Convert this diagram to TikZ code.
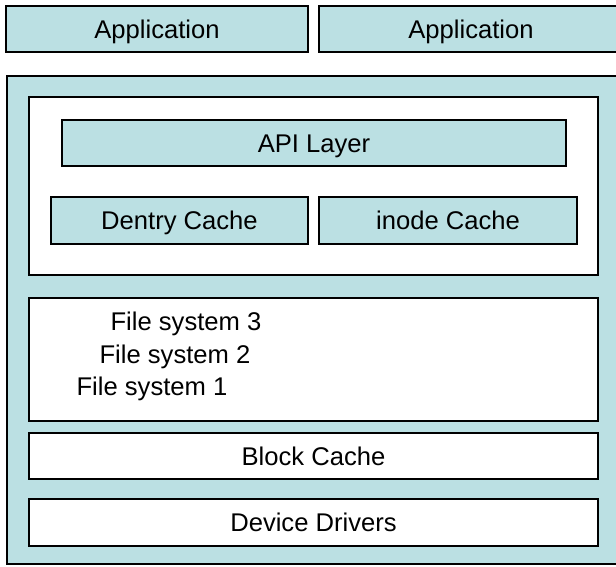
\documentclass[tikz,border=0pt]{standalone}
\usepackage{fontspec}
\setmainfont{Liberation Sans}
\definecolor{boxblue}{HTML}{BBE0E3}
\begin{document}
\begin{tikzpicture}[x=1pt,y=-1pt,
  every node/.style={font=\fontsize{25.6}{30}\selectfont, inner sep=0pt, outer sep=0pt, text height=18.3pt, text depth=0pt},
  bluebox/.style={draw=black, line width=2pt, fill=boxblue, rectangle},
  whitebox/.style={draw=black, line width=2pt, fill=white, rectangle},
  lbl/.style={anchor=center}]
\useasboundingbox (0,0) rectangle (616,566);
\clip (0,0) rectangle (616,566);
\node[bluebox, minimum width=302pt, minimum height=46pt] (app1) at (157,29) {Application};
\node[bluebox, minimum width=304pt, minimum height=46pt] (app2) at (471,29) {Application};
\node[bluebox, minimum width=618pt, minimum height=488pt] (outer) at (316,320) {};
\node[whitebox, minimum width=569pt, minimum height=178pt] (vfs) at (313.5,186) {};
\node[bluebox, minimum width=504pt, minimum height=46pt] (api) at (314,143) {API Layer};
\node[bluebox, minimum width=257pt, minimum height=47pt] (dentry) at (179.5,220.5) {Dentry Cache};
\node[bluebox, minimum width=258pt, minimum height=47pt] (inode) at (448,220.5) {inode Cache};
\node[whitebox, minimum width=569pt, minimum height=123pt] (fs) at (313.5,359.5) {};
\node[lbl] (fs3) at (186,321.5) {File system 3};
\node[lbl] (fs2) at (175,354) {File system 2};
\node[lbl] (fs1) at (152,386) {File system 1};
\node[whitebox, minimum width=569pt, minimum height=46pt] (block) at (313.5,456) {Block Cache};
\node[whitebox, minimum width=569pt, minimum height=47pt] (dev) at (313.5,522.5) {Device Drivers};
\end{tikzpicture}
\end{document}
